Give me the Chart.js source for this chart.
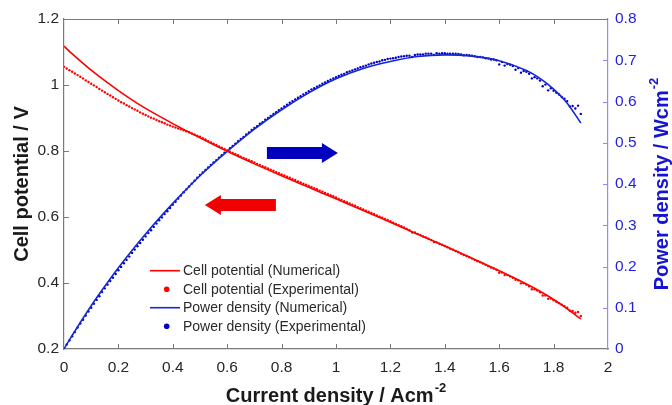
<!DOCTYPE html>
<html>
<head>
<meta charset="utf-8">
<script src="https://cdn.jsdelivr.net/npm/chart.js@4.4.1/dist/chart.umd.min.js"></script>
<style>
    html, body { margin: 0; padding: 0; background: #fff; }
    #wrap { width: 672px; height: 405px; }
</style>
</head>
<body>
<div id="wrap"><canvas id="chart" width="672" height="405"></canvas></div>
<script>
// ── Dados ──
const currentNum = [0, 0.02, 0.05, 0.1, 0.15, 0.2, 0.25, 0.3, 0.4, 0.5, 0.6, 0.7, 0.8, 0.9,
    1.0, 1.1, 1.2, 1.3, 1.4, 1.5, 1.6, 1.7, 1.75, 1.8, 1.85, 1.9];
const potentialNum = [1.118, 1.102, 1.080, 1.045, 1.013, 0.983, 0.955, 0.929, 0.883, 0.840, 0.799, 0.761, 0.725, 0.690,
    0.655, 0.620, 0.584, 0.548, 0.512, 0.475, 0.437, 0.397, 0.375, 0.350, 0.322, 0.291];
const powerNum = [0, 0.022, 0.054, 0.105, 0.152, 0.197, 0.239, 0.279, 0.353, 0.420, 0.479, 0.533, 0.580, 0.621,
    0.655, 0.680, 0.697, 0.709, 0.713, 0.710, 0.699, 0.675, 0.656, 0.630, 0.596, 0.548];

const currentExp = [
    0.00, 0.01, 0.02, 0.03, 0.04, 0.05, 0.06, 0.07, 0.08, 0.09,
    0.10, 0.11, 0.12, 0.13, 0.14, 0.15, 0.16, 0.17, 0.18, 0.19,
    0.20, 0.21, 0.22, 0.23, 0.24, 0.25, 0.26, 0.27, 0.28, 0.29,
    0.30, 0.31, 0.32, 0.33, 0.34, 0.35, 0.36, 0.37, 0.38, 0.39,
    0.40, 0.41, 0.42, 0.43, 0.44, 0.45, 0.46, 0.47, 0.48, 0.49,
    0.50, 0.51, 0.52, 0.53, 0.54, 0.55, 0.56, 0.57, 0.58, 0.59,
    0.60, 0.61, 0.62, 0.63, 0.64, 0.65, 0.66, 0.67, 0.68, 0.69,
    0.70, 0.71, 0.72, 0.73, 0.74, 0.75, 0.76, 0.77, 0.78, 0.79,
    0.80, 0.81, 0.82, 0.83, 0.84, 0.85, 0.86, 0.87, 0.88, 0.89,
    0.90, 0.91, 0.92, 0.93, 0.94, 0.95, 0.96, 0.97, 0.98, 0.99,
    1.00, 1.01, 1.02, 1.03, 1.04, 1.05, 1.06, 1.07, 1.08, 1.09,
    1.10, 1.11, 1.12, 1.13, 1.14, 1.15, 1.16, 1.17, 1.18, 1.19,
    1.20, 1.21, 1.22, 1.23, 1.24, 1.25, 1.26, 1.27, 1.28, 1.29,
    1.30, 1.31, 1.32, 1.33, 1.34, 1.35, 1.36, 1.37, 1.38, 1.39,
    1.40, 1.41, 1.42, 1.43, 1.44, 1.45, 1.46, 1.47, 1.48, 1.49,
    1.50, 1.51, 1.52, 1.53, 1.54, 1.55, 1.56, 1.57, 1.58, 1.59,
    1.60, 1.61, 1.62, 1.63, 1.64, 1.65, 1.66, 1.67, 1.68, 1.69,
    1.70, 1.71, 1.72, 1.73, 1.74, 1.75, 1.76, 1.77, 1.78, 1.79,
    1.80, 1.81, 1.82, 1.83, 1.84, 1.85, 1.86, 1.87, 1.88, 1.89,
    1.90
];
const potentialExp = [
    1.055, 1.050, 1.045, 1.040, 1.035, 1.030, 1.025, 1.020, 1.014, 1.009,
    1.004, 0.999, 0.994, 0.988, 0.983, 0.978, 0.973, 0.968, 0.963, 0.958,
    0.953, 0.948, 0.944, 0.939, 0.935, 0.930, 0.926, 0.922, 0.917, 0.913,
    0.909, 0.905, 0.901, 0.898, 0.894, 0.890, 0.887, 0.884, 0.880, 0.877,
    0.874, 0.871, 0.868, 0.866, 0.863, 0.860, 0.857, 0.853, 0.850, 0.846,
    0.843, 0.839, 0.835, 0.830, 0.826, 0.822, 0.818, 0.814, 0.810, 0.806,
    0.802, 0.798, 0.794, 0.791, 0.787, 0.783, 0.779, 0.776, 0.772, 0.769,
    0.765, 0.761, 0.758, 0.754, 0.751, 0.747, 0.743, 0.740, 0.736, 0.733,
    0.729, 0.726, 0.722, 0.719, 0.715, 0.712, 0.708, 0.705, 0.701, 0.698,
    0.694, 0.691, 0.687, 0.684, 0.680, 0.677, 0.673, 0.670, 0.666, 0.663,
    0.659, 0.655, 0.652, 0.648, 0.645, 0.641, 0.637, 0.634, 0.630, 0.627,
    0.623, 0.619, 0.616, 0.612, 0.609, 0.605, 0.601, 0.598, 0.594, 0.591,
    0.587, 0.583, 0.579, 0.576, 0.572, 0.568, 0.564, 0.560, 0.553, 0.553,
    0.549, 0.545, 0.541, 0.538, 0.534, 0.530, 0.524, 0.523, 0.519, 0.516,
    0.512, 0.508, 0.504, 0.501, 0.497, 0.493, 0.489, 0.485, 0.482, 0.478,
    0.474, 0.470, 0.466, 0.463, 0.459, 0.455, 0.451, 0.447, 0.444, 0.440,
    0.431, 0.432, 0.424, 0.424, 0.420, 0.416, 0.410, 0.408, 0.399, 0.399,
    0.395, 0.390, 0.381, 0.381, 0.377, 0.372, 0.362, 0.362, 0.352, 0.353,
    0.348, 0.343, 0.339, 0.334, 0.330, 0.325, 0.316, 0.315, 0.310, 0.312,
    0.300
];
const powerExp = [
    0.000, 0.011, 0.021, 0.031, 0.041, 0.052, 0.062, 0.071, 0.081, 0.091,
    0.100, 0.110, 0.119, 0.128, 0.138, 0.147, 0.156, 0.165, 0.173, 0.182,
    0.191, 0.199, 0.208, 0.216, 0.224, 0.233, 0.241, 0.249, 0.257, 0.265,
    0.273, 0.281, 0.288, 0.296, 0.304, 0.312, 0.319, 0.327, 0.334, 0.342,
    0.350, 0.357, 0.365, 0.372, 0.380, 0.387, 0.394, 0.401, 0.408, 0.415,
    0.422, 0.428, 0.434, 0.440, 0.446, 0.452, 0.458, 0.464, 0.470, 0.476,
    0.481, 0.487, 0.492, 0.498, 0.504, 0.509, 0.514, 0.520, 0.525, 0.531,
    0.536, 0.540, 0.546, 0.550, 0.556, 0.560, 0.565, 0.570, 0.574, 0.579,
    0.583, 0.588, 0.592, 0.597, 0.601, 0.605, 0.609, 0.613, 0.617, 0.621,
    0.625, 0.629, 0.632, 0.636, 0.639, 0.643, 0.646, 0.650, 0.653, 0.656,
    0.659, 0.662, 0.665, 0.667, 0.671, 0.673, 0.675, 0.678, 0.680, 0.683,
    0.685, 0.687, 0.690, 0.692, 0.694, 0.696, 0.697, 0.700, 0.701, 0.703,
    0.704, 0.705, 0.706, 0.708, 0.709, 0.710, 0.711, 0.711, 0.708, 0.713,
    0.714, 0.714, 0.714, 0.716, 0.716, 0.716, 0.713, 0.717, 0.716, 0.717,
    0.717, 0.716, 0.716, 0.716, 0.716, 0.715, 0.714, 0.712, 0.713, 0.712,
    0.711, 0.710, 0.708, 0.708, 0.707, 0.705, 0.704, 0.702, 0.702, 0.700,
    0.690, 0.696, 0.687, 0.691, 0.689, 0.686, 0.677, 0.681, 0.670, 0.674,
    0.672, 0.667, 0.656, 0.659, 0.656, 0.651, 0.637, 0.641, 0.627, 0.632,
    0.626, 0.621, 0.617, 0.611, 0.607, 0.601, 0.588, 0.589, 0.583, 0.590,
    0.570
];

const xTicks = { min: 0, max: 2, step: 0.2 };
const vTicks = { min: 0.2, max: 1.2, step: 0.2 };
const pTicks = { min: 0, max: 0.8, step: 0.1 };

// setas de indicação (em unidades dos eixos)
const arrows = [
    { from: 0.746, to: 1.007, value: 0.475, axis: 'y1', color: '#0000be' },
    { from: 0.779, to: 0.518, value: 0.636, axis: 'y',  color: '#f00000' }
];

const FONT  = "'Liberation Sans', Arial, sans-serif";
const RED   = '#ff0000';
const BLUE  = '#1428d2';
const BLUED = '#0000c8';
const GRAY  = '#7a7a7a';
const LBLUE = '#8c8cff';

Chart.defaults.font.family = FONT;

const pts = (xs, ys) => xs.map((x, i) => ({ x, y: ys[i] }));
const fmt = v => String(Number(v.toFixed(2)));

function line(ctx, x1, y1, x2, y2) {
    ctx.beginPath();
    ctx.moveTo(x1, y1);
    ctx.lineTo(x2, y2);
    ctx.stroke();
}

function titleSup(ctx, main, sup, cx, baseY) {
    ctx.font = 'bold 20px ' + FONT;
    const w1 = ctx.measureText(main).width;
    ctx.font = 'bold 13px ' + FONT;
    const w2 = ctx.measureText(sup).width;
    const x0 = cx - (w1 + w2 + 1) / 2;
    ctx.textAlign = 'left';
    ctx.textBaseline = 'alphabetic';
    ctx.font = 'bold 20px ' + FONT;
    ctx.fillText(main, x0, baseY);
    ctx.font = 'bold 13px ' + FONT;
    ctx.fillText(sup, x0 + w1 + 1, baseY - 10);
}

// ── Moldura, marcas internas, títulos, legenda, setas ──
const decor = {
    id: 'decor',
    afterDatasetsDraw(chart) {
        const { ctx, scales } = chart;
        ctx.save();
        arrows.forEach(a => {
            const x1 = scales.x.getPixelForValue(a.from);
            const x2 = scales.x.getPixelForValue(a.to);
            const y  = scales[a.axis].getPixelForValue(a.value);
            const dir = Math.sign(x2 - x1);
            const hb = x2 - dir * 16;
            ctx.fillStyle = a.color;
            ctx.beginPath();
            ctx.moveTo(x1, y - 6);
            ctx.lineTo(hb, y - 6);
            ctx.lineTo(hb, y - 10);
            ctx.lineTo(x2, y);
            ctx.lineTo(hb, y + 10);
            ctx.lineTo(hb, y + 6);
            ctx.lineTo(x1, y + 6);
            ctx.closePath();
            ctx.fill();
        });
        ctx.restore();
    },
    afterDraw(chart) {
        const { ctx, chartArea: a, scales } = chart;
        ctx.save();
        ctx.lineWidth = 1;

        // borda superior
        ctx.strokeStyle = GRAY;
        line(ctx, a.left, a.top + 0.5, a.right, a.top + 0.5);

        // marcas do eixo x (baixo e cima)
        scales.x.ticks.forEach(t => {
            const px = Math.round(scales.x.getPixelForValue(t.value)) + 0.5;
            if (t.value <= xTicks.min || t.value >= xTicks.max) return;
            line(ctx, px, a.bottom, px, a.bottom - 5);
            line(ctx, px, a.top, px, a.top + 5);
        });
        // marcas do eixo esquerdo
        scales.y.ticks.forEach(t => {
            const py = Math.round(scales.y.getPixelForValue(t.value)) + 0.5;
            if (t.value <= vTicks.min || t.value >= vTicks.max) return;
            line(ctx, a.left, py, a.left + 5, py);
        });
        // marcas do eixo direito
        ctx.strokeStyle = LBLUE;
        scales.y1.ticks.forEach(t => {
            const py = Math.round(scales.y1.getPixelForValue(t.value)) + 0.5;
            if (t.value <= pTicks.min || t.value >= pTicks.max) return;
            line(ctx, a.right, py, a.right - 5, py);
        });

        // títulos dos eixos
        const cy = (a.top + a.bottom) / 2;
        ctx.fillStyle = '#1a1a1a';
        titleSup(ctx, 'Current density / Acm', '-2', (a.left + a.right) / 2, 401.5);

        ctx.save();
        ctx.translate(28, cy);
        ctx.rotate(-Math.PI / 2);
        ctx.font = 'bold 20px ' + FONT;
        ctx.textAlign = 'center';
        ctx.textBaseline = 'alphabetic';
        ctx.fillText('Cell potential / V', 0, 0);
        ctx.restore();

        ctx.save();
        ctx.translate(667.5, cy);
        ctx.rotate(-Math.PI / 2);
        ctx.fillStyle = '#1414d2';
        titleSup(ctx, 'Power density / Wcm', '-2', 0, 0);
        ctx.restore();

        // legenda
        const rows = [270.7, 289.2, 307.7, 326.2];
        ctx.font = '14px ' + FONT;
        ctx.textAlign = 'left';
        ctx.textBaseline = 'middle';
        chart.data.datasets.forEach((ds, i) => {
            const y = rows[i];
            if (ds.showLine) {
                ctx.strokeStyle = ds.borderColor;
                ctx.lineWidth = 1.6;
                line(ctx, 150, y, 180, y);
            } else {
                ctx.fillStyle = ds.backgroundColor;
                ctx.beginPath();
                ctx.arc(166.7, y, 2.8, 0, Math.PI * 2);
                ctx.fill();
            }
            ctx.fillStyle = '#2a2a2a';
            ctx.fillText(ds.label, 183, y + 0.5);
        });
        ctx.restore();
    }
};

new Chart(document.getElementById('chart'), {
    type: 'scatter',
    data: {
        datasets: [
            {
                label: 'Cell potential (Numerical)',
                data: pts(currentNum, potentialNum),
                yAxisID: 'y',
                showLine: true,
                borderColor: RED,
                borderWidth: 1.6,
                pointRadius: 0,
                cubicInterpolationMode: 'monotone',
            },
            {
                label: 'Cell potential (Experimental)',
                data: pts(currentExp, potentialExp),
                yAxisID: 'y',
                showLine: false,
                backgroundColor: RED,
                borderWidth: 0,
                pointRadius: 1.2,
            },
            {
                label: 'Power density (Numerical)',
                data: pts(currentNum, powerNum),
                yAxisID: 'y1',
                showLine: true,
                borderColor: BLUE,
                borderWidth: 1.6,
                pointRadius: 0,
                cubicInterpolationMode: 'monotone',
            },
            {
                label: 'Power density (Experimental)',
                data: pts(currentExp, powerExp),
                yAxisID: 'y1',
                showLine: false,
                backgroundColor: BLUED,
                borderWidth: 0,
                pointRadius: 1.2,
            }
        ]
    },
    options: {
        responsive: false,
        animation: false,
        devicePixelRatio: 1,
        layout: { padding: { top: 19, left: 0, right: 0, bottom: 0 } },
        plugins: {
            legend: { display: false },
            tooltip: { enabled: false }
        },
        scales: {
            x: {
                type: 'linear',
                min: xTicks.min, max: xTicks.max,
                grid: { display: false, drawTicks: false },
                border: { color: GRAY, width: 1.2 },
                ticks: {
                    stepSize: xTicks.step, padding: 9, color: '#262626',
                    font: { size: 15.5 }, maxRotation: 0, autoSkip: false,
                    callback: fmt
                },
                afterFit(s) { s.height = 56; }
            },
            y: {
                position: 'left',
                min: vTicks.min, max: vTicks.max,
                grid: { display: false, drawTicks: false },
                border: { color: GRAY, width: 1.2 },
                ticks: {
                    stepSize: vTicks.step, padding: 5, color: '#262626',
                    font: { size: 15.5 }, callback: fmt
                },
                afterFit(s) { s.width = 64; }
            },
            y1: {
                position: 'right',
                min: pTicks.min, max: pTicks.max,
                grid: { display: false, drawTicks: false },
                border: { color: LBLUE, width: 1.2 },
                ticks: {
                    stepSize: pTicks.step, padding: 7, color: '#1e1ee6',
                    font: { size: 15.5 }, callback: fmt
                },
                afterFit(s) { s.width = 64; }
            }
        }
    },
    plugins: [decor]
});
</script>
</body>
</html>
